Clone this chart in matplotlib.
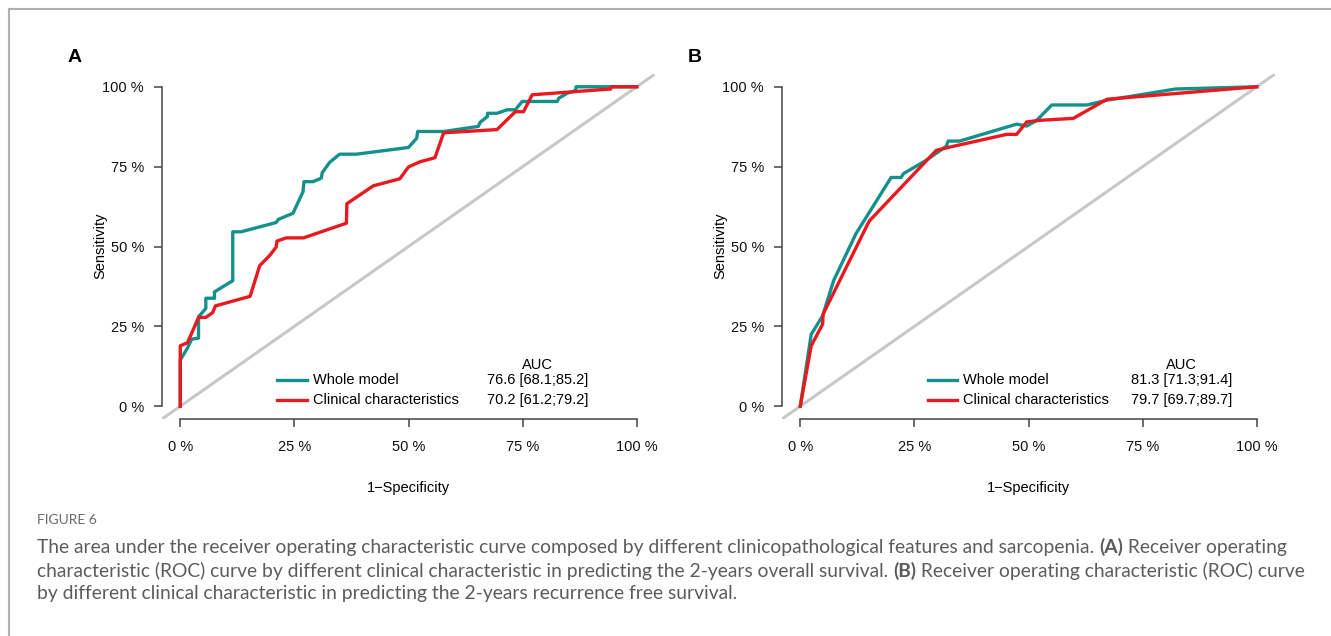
import matplotlib
matplotlib.use("Agg")
import matplotlib.pyplot as plt
from matplotlib.lines import Line2D

plt.rcParams["font.family"] = ["Liberation Sans", "DejaVu Sans"]

W, H = 1331, 636

# ROC points: (1 - specificity, sensitivity) in %
a_whole_fpr = [0, 0, 1.5, 2.5, 4, 4, 5.6, 5.6, 7.5, 7.5, 11.5, 11.5, 13.3, 21, 21.5, 24.7, 26.9, 27.1,
               29.1, 30.9, 31.1, 32.7, 34.9, 38.6, 50, 51.8, 52, 57.7, 65.3, 65.7, 67.3, 67.3, 69.4,
               71.6, 73.4, 74.9, 82.6, 82.9, 84.8, 86.6, 86.7, 100]
a_whole_tpr = [0, 14.5, 18, 21, 21.3, 28, 30.6, 33.8, 33.8, 35.8, 39.3, 54.6, 54.6, 57.5, 58.5, 60.4,
               67.2, 70.3, 70.3, 71.4, 73.1, 76.3, 78.9, 78.9, 81, 83.9, 86, 86, 87.6, 88.9, 90.7,
               91.7, 91.7, 92.8, 92.8, 95.4, 95.4, 96.4, 98, 98.8, 100, 100]
a_clin_fpr = [0, 0, 1.6, 4, 5.6, 7.1, 7.7, 15.3, 17.4, 19.6, 21, 21.2, 23.2, 27, 36.4, 36.5, 42.3,
              48.1, 50, 52.5, 55.8, 57.7, 69.4, 70.9, 73.4, 75.2, 77.1, 94.3, 94.4, 100]
a_clin_tpr = [0, 18.9, 19.9, 27.8, 27.8, 29.3, 31.4, 34.4, 44, 47.2, 49.8, 51.7, 52.7, 52.7, 57.3,
              63.4, 69, 71.2, 74.9, 76.5, 77.8, 85.6, 86.6, 88.7, 92.2, 92.2, 97.5, 99.3, 100, 100]

b_whole_fpr = [0, 2.4, 4.9, 7.3, 12.2, 19.9, 22.1, 22.6, 27.6, 32, 32.4, 34.9, 47.4, 49.6, 51.8,
               55.1, 62.8, 67.2, 82.2, 100]
b_whole_tpr = [0, 22.5, 28.3, 39.3, 54, 71.6, 71.6, 72.8, 77, 81.4, 83, 83, 88.3, 87.7, 89.5,
               94.3, 94.3, 95.8, 99.3, 100]
b_clin_fpr = [0, 2.4, 4.9, 5, 14.8, 15.2, 29.8, 32.7, 45.2, 47.4, 49.6, 52.5, 59.8, 67.2, 100]
b_clin_tpr = [0, 18.9, 25.7, 28.8, 57.1, 58.1, 80.1, 81.1, 85.1, 85.1, 89, 89.5, 90.1, 96.1, 100]

series_labels = ["Whole model", "Clinical characteristics"]
a_auc = ["76.6 [68.1;85.2]", "70.2 [61.2;79.2]"]
b_auc = ["81.3 [71.3;91.4]", "79.7 [69.7;89.7]"]
ticks = [0, 25, 50, 75, 100]
tick_labels = ["0 %", "25 %", "50 %", "75 %", "100 %"]

TEAL = "#14918d"
RED = "#e8191f"
AXC = "#444444"

fig = plt.figure(figsize=(W / 100, H / 100), dpi=100)


def px(x, y):
    return x / W, 1 - y / H


def roc_panel(left, letter, curves, auc, leg_x, auc_x):
    ax = fig.add_axes([left / W, 1 - 419 / H, 493 / W, 345 / H])
    ax.set_xlim(-4, 104)
    ax.set_ylim(-4, 104)
    ax.plot([-4, 104], [-4, 104], color="#c8c8c8", lw=2.2, solid_capstyle="butt")
    for (fpr, tpr), col in zip(curves, [TEAL, RED]):
        ax.plot(fpr, tpr, color=col, lw=2.4)
    for s in ["top", "right"]:
        ax.spines[s].set_visible(False)
    for s in ["left", "bottom"]:
        ax.spines[s].set_bounds(0, 100)
        ax.spines[s].set_color(AXC)
        ax.spines[s].set_linewidth(1.1)
    ax.set_xticks(ticks, tick_labels)
    ax.set_yticks(ticks, tick_labels)
    ax.tick_params(axis="both", direction="out", length=6, width=1.1, color=AXC,
                   labelsize=10.5, labelcolor="#111111")
    ax.tick_params(axis="x", pad=9)
    ax.tick_params(axis="y", pad=7)
    ax.set_xlabel("1\u2212Specificity", fontsize=10.5)
    ax.set_ylabel("Sensitivity", fontsize=10.5)
    # label positions in the R layout, given in pixels relative to the axes box
    ax.xaxis.set_label_coords((408 - 162) / 493, -(488 - 419) / 345)
    ax.yaxis.set_label_coords(-(162 - 100) / 493, (419 - 246) / 345)
    ax.xaxis.label.set_va("center")
    ax.yaxis.label.set_va("center")

    # legend with AUC column
    for yy, col, lab, val in zip([8.1, 1.8], [TEAL, RED], series_labels, auc):
        ax.plot([leg_x, leg_x + 6.4], [yy, yy], color=col, lw=2.4, clip_on=False)
        ax.text(leg_x + 7.7, yy, lab, fontsize=10.5, va="center", ha="left")
        ax.text(auc_x, yy, val, fontsize=10.5, va="center", ha="center")
    ax.text(auc_x, 12.8, "AUC", fontsize=10.5, va="center", ha="center")

    fig.text(*px(left - 87, 57), letter, fontsize=14, fontweight="bold", ha="center", va="center")
    return ax


roc_panel(162, "A", [(a_whole_fpr, a_whole_tpr), (a_clin_fpr, a_clin_tpr)], a_auc, 21.3, 78.2)
roc_panel(782, "B", [(b_whole_fpr, b_whole_tpr), (b_clin_fpr, b_clin_tpr)], b_auc, 27.9, 83.5)

# frame
fig.add_artist(Line2D([9 / W, 1], [1 - 9 / H, 1 - 9 / H], color="#b0b0b0", lw=1.5))
fig.add_artist(Line2D([9 / W, 9 / W], [0, 1 - 9 / H], color="#b0b0b0", lw=1.5))

# caption
CAP = "#5c5c5c"
cap_font = ["Lato", "DejaVu Sans"]
fig.text(*px(37, 520), "FIGURE 6", fontsize=10, color="#6a6a6a", family=cap_font,
         ha="left", va="center")

caption_lines = [
    [("The area under the receiver operating characteristic curve composed by different "
      "clinicopathological features and sarcopenia. ", "normal"), ("(A)", "bold"),
     (" Receiver operating", "normal")],
    [("characteristic (ROC) curve by different clinical characteristic in predicting the "
      "2-years overall survival. ", "normal"), ("(B)", "bold"),
     (" Receiver operating characteristic (ROC) curve", "normal")],
    [("by different clinical characteristic in predicting the 2-years recurrence free survival.",
      "normal")],
]
renderer = fig.canvas.get_renderer()
for line, ypix in zip(caption_lines, [547, 571, 594]):
    x = 37
    for txt, wt in line:
        t = fig.text(*px(x, ypix), txt, fontsize=13.9, color=CAP, family=cap_font,
                     fontweight=wt, ha="left", va="center")
        bb = t.get_window_extent(renderer)
        x += bb.width

fig.savefig("out.png", dpi=100)
